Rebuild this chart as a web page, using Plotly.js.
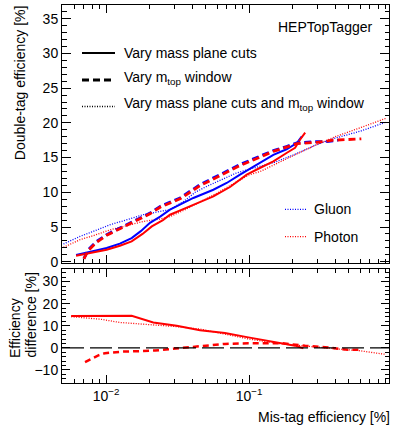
<!DOCTYPE html>
<html><head><meta charset="utf-8">
<script src="https://cdn.plot.ly/plotly-3.0.1.min.js"></script>
<style>html,body{margin:0;padding:0;background:#fff}</style>
</head><body><div id="plot" style="width:395px;height:426px"></div>
<script>
// ---- Top panel: double-tag efficiency [%] vs mis-tag efficiency [%] ----
const gluonSolidX = [0.00617, 0.0073, 0.0085, 0.0101, 0.0125, 0.0151, 0.0175, 0.0203, 0.0239, 0.028, 0.034, 0.0408, 0.0563, 0.0698, 0.0865, 0.1, 0.119, 0.148, 0.183, 0.216, 0.234];
const gluonSolidY = [0.97, 1.25, 1.6, 1.97, 2.6, 3.41, 4.4, 5.6, 6.5, 7.5, 8.4, 9.18, 10.37, 11.34, 12.54, 13.3, 14.3, 15.4, 16.2, 17.1, 18.05];
const photonSolidX = [0.00617, 0.0077, 0.0101, 0.0125, 0.0151, 0.018, 0.0209, 0.025, 0.028, 0.034, 0.0408, 0.0563, 0.0736, 0.0964, 0.119, 0.148, 0.183, 0.21, 0.228, 0.247];
const photonSolidY = [0.86, 1.25, 1.73, 2.3, 2.93, 4.0, 5.09, 6.0, 6.77, 7.5, 8.21, 9.4, 10.76, 12.54, 13.5, 14.45, 15.66, 16.4, 17.6, 18.6];
const gluonDashedX = [0.0070, 0.0075, 0.0086, 0.0101, 0.0125, 0.0155, 0.0203, 0.0239, 0.0329, 0.0454, 0.0627, 0.0865, 0.119, 0.148, 0.183, 0.216, 0.297, 0.35, 0.42];
const gluonDashedY = [0.45, 1.73, 2.93, 3.9, 4.85, 5.8, 7.0, 7.97, 9.18, 11.1, 12.54, 14.0, 15.2, 16.0, 16.6, 17.1, 17.3, 17.3, 17.5];
const photonDashedX = [0.0070, 0.0075, 0.0086, 0.0101, 0.0125, 0.0155, 0.0203, 0.0239, 0.0329, 0.0454, 0.0627, 0.0865, 0.119, 0.148, 0.183, 0.216, 0.297, 0.389, 0.49, 0.61];
const photonDashedY = [0.4, 1.6, 2.8, 3.8, 4.75, 5.7, 6.9, 7.85, 9.05, 10.95, 12.4, 13.85, 15.05, 15.9, 16.5, 17.0, 17.2, 17.5, 17.6, 17.7];
const gluonDottedX = [0.00504, 0.00658, 0.00815, 0.0107, 0.014, 0.0182, 0.0239, 0.028, 0.035, 0.042, 0.05, 0.065, 0.082, 0.1, 0.12, 0.15, 0.2, 0.3, 0.4, 0.6, 0.9];
const gluonDottedY = [2.55, 3.65, 4.37, 5.33, 6.05, 6.77, 7.25, 7.5, 8.7, 10.0, 10.8, 11.9, 12.8, 13.3, 13.7, 14.3, 15.3, 16.9, 17.8, 18.8, 20.07];
const photonDottedX = [0.00504, 0.00658, 0.00815, 0.0107, 0.014, 0.0182, 0.0239, 0.028, 0.035, 0.045, 0.06, 0.08, 0.1, 0.12, 0.15, 0.2, 0.3, 0.4, 0.6, 0.92];
const photonDottedY = [2.07, 3.17, 3.75, 4.6, 5.19, 5.8, 6.15, 6.5, 7.4, 8.6, 9.9, 11.4, 12.5, 13.0, 14.0, 15.2, 16.9, 18.0, 19.3, 20.7];

// ---- Bottom panel: efficiency difference [%] ----
const diffSolidX = [0.0057, 0.0151, 0.0214, 0.0312, 0.0454, 0.0679, 0.0989, 0.169, 0.21, 0.24];
const diffSolidY = [14.4, 14.5, 11.5, 10.0, 8.0, 6.7, 4.75, 2.1, 1.0, -0.2];
const diffDottedX = [0.0057, 0.00908, 0.0125, 0.0173, 0.0239, 0.033, 0.0454, 0.0679, 0.099, 0.169, 0.29, 0.494, 0.58, 0.893];
const diffDottedY = [14.1, 13.0, 11.5, 10.8, 10.3, 9.5, 8.5, 6.3, 4.0, 1.8, 0.3, -0.9, -1.2, -2.9];
const diffDashedX = [0.00713, 0.00884, 0.00984, 0.0129, 0.0168, 0.022, 0.029, 0.0377, 0.0493, 0.0679, 0.099, 0.169, 0.247, 0.34, 0.494, 0.6];
const diffDashedY = [-6.4, -3.4, -2.4, -1.7, -1.5, -1.2, -0.45, 0.3, 1.0, 1.8, 2.1, 2.1, 1.0, 0.3, -0.9, -0.8];

// ---- Tick labels and text ----
const xTickVals = [0.01, 0.1, 1];
const xTickText = ["10<sup>\u22122</sup>", "10<sup>\u22121</sup>", "1"];
const legendLabels = ["Vary mass plane cuts", "Vary m<sub>top</sub> window", "Vary mass plane cuts and m<sub>top</sub> window"];
const sampleLabels = ["Gluon", "Photon"];
const taggerLabel = "HEPTopTagger";
const yTitleTop = "Double-tag efficiency [%]";
const yTitleBottom = ["Efficiency", "difference [%]"];
const xTitle = "Mis-tag efficiency [%]";

const BLUE = "#0000ff", RED = "#ff0000";
const FONT = "Liberation Sans, Arial, Helvetica, sans-serif";
const SOLID = {width: 2, dash: "solid"};
const DASHED = {width: 2.8, dash: "7px,4px"};
const DOTTED = {width: 1.3, dash: "1px,1.5px"};

function tr(x, y, color, style, xa, ya) {
  return {x: x, y: y, type: "scatter", mode: "lines", xaxis: xa, yaxis: ya,
    line: Object.assign({color: color}, style), showlegend: false, hoverinfo: "skip"};
}

const data = [
  tr(gluonDottedX, gluonDottedY, BLUE, DOTTED, "x", "y"),
  tr(photonDottedX, photonDottedY, RED, DOTTED, "x", "y"),
  tr(gluonSolidX, gluonSolidY, BLUE, SOLID, "x", "y"),
  tr(photonSolidX, photonSolidY, RED, SOLID, "x", "y"),
  tr(gluonDashedX, gluonDashedY, BLUE, DASHED, "x", "y"),
  tr(photonDashedX, photonDashedY, RED, DASHED, "x", "y"),
  tr(diffSolidX, diffSolidY, RED, SOLID, "x2", "y2"),
  tr(diffDashedX, diffDashedY, RED, {width: 2.5, dash: "6px,4px"}, "x2", "y2"),
  tr(diffDottedX, diffDottedY, RED, DOTTED, "x2", "y2")
];

// geometry helpers (plot area: x 62..389, y 5..383 px)
const L = 62, R = 6, T = 5, B = 43, W = 395, H = 426;
const pw = W - L - R, ph = H - T - B;
const px = v => (v - L) / pw;
const py = v => (H - B - v) / ph;

const minorLog = [];
[-3, -2, -1].forEach(e => { for (let k = 2; k <= 9; k++) minorLog.push(k * Math.pow(10, e)); });

const axisCommon = {
  showline: true, linecolor: "#000", linewidth: 1, mirror: "allticks",
  ticks: "inside", ticklen: 8, tickwidth: 1, tickcolor: "#000",
  showgrid: false, zeroline: false,
  tickfont: {family: FONT, size: 14, color: "#000"}
};
const xMinor = {tickmode: "array", tickvals: minorLog, ticks: "inside", ticklen: 4, tickcolor: "#000", showgrid: false};

const legendLines = [
  {y: 53, style: SOLID, ty: 53},
  {y: 80, style: DASHED, ty: 78},
  {y: 106.5, style: DOTTED, ty: 104}
];
const shapes = [];
const annotations = [];
legendLines.forEach((it, i) => {
  shapes.push({type: "line", xref: "paper", yref: "paper", x0: px(82), x1: px(115), y0: py(it.y), y1: py(it.y),
    line: {color: "#000", width: it.style.width, dash: it.style.dash}});
  annotations.push({xref: "paper", yref: "paper", x: px(122), y: py(it.ty), xanchor: "left", yanchor: "middle",
    text: legendLabels[i], showarrow: false, font: {family: FONT, size: 14, color: "#000"}});
});
[[209.3, BLUE], [236.7, RED]].forEach((it, i) => {
  shapes.push({type: "line", xref: "paper", yref: "paper", x0: px(285), x1: px(307), y0: py(it[0]), y1: py(it[0]),
    line: {color: it[1], width: DOTTED.width, dash: DOTTED.dash}});
  annotations.push({xref: "paper", yref: "paper", x: px(311.5), y: py(it[0]), xanchor: "left", yanchor: "middle",
    text: sampleLabels[i], showarrow: false, font: {family: FONT, size: 14, color: "#000"}});
});
// zero reference line in the difference panel
shapes.push({type: "line", xref: "paper", yref: "y2", x0: 0, x1: 1, y0: 0, y1: 0,
  line: {color: "#000", width: 1.2, dash: "22px,6px"}});

annotations.push({xref: "paper", yref: "paper", x: px(374.5), y: py(26.7), xanchor: "right", yanchor: "middle",
  text: taggerLabel, showarrow: false, font: {family: FONT, size: 14, color: "#000"}});
annotations.push({xref: "paper", yref: "paper", x: px(20.7), y: py(3), xanchor: "center", yanchor: "top", textangle: -90,
  text: yTitleTop, showarrow: false, font: {family: FONT, size: 14, color: "#000"}});
annotations.push({xref: "paper", yref: "paper", x: px(15), y: py(360), xanchor: "center", yanchor: "bottom", textangle: -90,
  text: yTitleBottom[0], showarrow: false, font: {family: FONT, size: 14, color: "#000"}});
annotations.push({xref: "paper", yref: "paper", x: px(30), y: py(360), xanchor: "center", yanchor: "bottom", textangle: -90,
  text: yTitleBottom[1], showarrow: false, font: {family: FONT, size: 14, color: "#000"}});
annotations.push({xref: "paper", yref: "paper", x: px(392), y: py(416.7), xanchor: "right", yanchor: "middle",
  text: xTitle, showarrow: false, font: {family: FONT, size: 14, color: "#000"}});

const layout = {
  width: W, height: H,
  margin: {l: L, r: R, t: T, b: B, pad: 0},
  paper_bgcolor: "#fff", plot_bgcolor: "#fff",
  showlegend: false,
  font: {family: FONT, size: 14, color: "#000"},
  xaxis: Object.assign({}, axisCommon, {type: "log", range: [-2.308, -0.021], domain: [0, 1], anchor: "y",
    tickmode: "array", tickvals: xTickVals, showticklabels: false, minor: xMinor}),
  xaxis2: Object.assign({}, axisCommon, {type: "log", range: [-2.308, -0.021], domain: [0, 1], anchor: "y2",
    tickmode: "array", tickvals: xTickVals, ticktext: xTickText, showticklabels: true, minor: xMinor}),
  yaxis: Object.assign({}, axisCommon, {range: [-0.23, 36.98], domain: [py(263.3), 1], anchor: "x",
    dtick: 5, tick0: 0, ticklen: 9, minor: {dtick: 1, ticks: "inside", ticklen: 4.5, tickcolor: "#000", showgrid: false}}),
  yaxis2: Object.assign({}, axisCommon, {range: [-15.9, 35.7], domain: [0, py(269)], anchor: "x2",
    dtick: 10, tick0: 0, minor: {dtick: 2, ticks: "inside", ticklen: 4, tickcolor: "#000", showgrid: false}}),
  shapes: shapes,
  annotations: annotations
};

Plotly.newPlot("plot", data, layout, {displayModeBar: false, staticPlot: true});
</script>
</body></html>
